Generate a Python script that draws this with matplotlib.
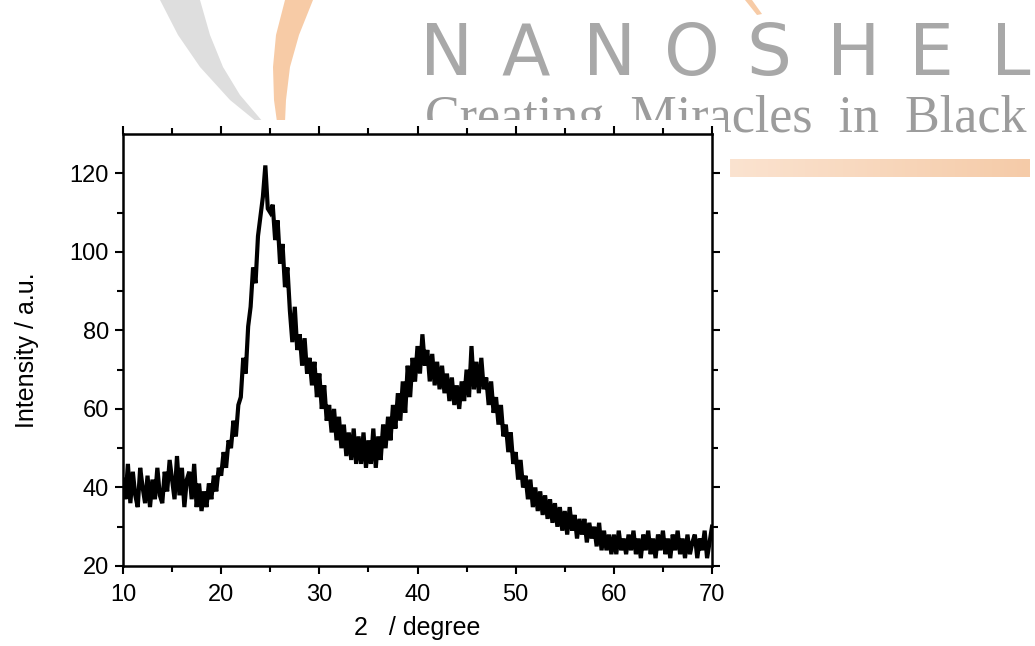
import numpy as np
import matplotlib
matplotlib.use("Agg")
import matplotlib.pyplot as plt
from matplotlib.patches import Polygon, Rectangle

# XRD pattern, every 0.25 degree (10 .. 70)
two_theta = np.arange(10, 70.01, 0.25)
intensity = [
    42, 37, 46, 36,   44, 38, 35, 45,   40, 36, 43, 35,   42, 37, 45, 38,
    36, 44, 39, 47,   42, 37, 48, 38,   45, 35, 42, 44,   37, 46, 35, 41,
    34, 39, 35, 41,   37, 43, 39, 45,   43, 49, 45, 52,   50, 57, 53, 61,
    63, 73, 69, 81,   86, 96, 92, 104,  109, 114, 122, 111, 110, 112, 103, 108,
    97, 102, 91, 96,  85, 77, 86, 75,   79, 71, 78, 69,   73, 66, 72, 63,
    69, 60, 66, 57,   61, 54, 60, 52,   58, 50, 56, 48,   54, 47, 55, 46,
    53, 46, 54, 45,   52, 46, 55, 45,   53, 47, 56, 50,   58, 52, 61, 55,
    64, 57, 67, 59,   71, 63, 73, 67,   76, 69, 79, 71,   75, 67, 74, 66,
    72, 65, 71, 64,   69, 62, 68, 61,   66, 60, 67, 62,   70, 63, 76, 65,
    72, 64, 73, 65,   68, 61, 67, 59,   63, 56, 61, 53,   56, 49, 54, 46,
    49, 42, 47, 40,   43, 37, 42, 35,   40, 34, 39, 33,   38, 32, 37, 31,
    36, 30, 35, 29,   34, 28, 35, 29,   33, 27, 32, 28,   32, 26, 31, 27,
    30, 25, 31, 24,   29, 24, 28, 23,   28, 23, 29, 24,   27, 23, 28, 24,
    29, 23, 27, 22,   28, 24, 29, 23,   27, 22, 28, 24,   29, 23, 27, 22,
    28, 24, 29, 23,   27, 22, 28, 23,   26, 28, 22, 27,   24, 29, 22, 26,
    30,
]

x_ticks = [10, 20, 30, 40, 50, 60, 70]
y_ticks = [20, 40, 60, 80, 100, 120]
logo_letters = "NANOSHEL"
slogan = "Creating  Miracles  in  Black"

W, H = 1035, 646
fig = plt.figure(figsize=(W / 100, H / 100), dpi=100)
fig.patch.set_facecolor("white")

# watermark layer in pixel coordinates
bg = fig.add_axes([0, 0, 1, 1])
bg.axis("off")
bg.set_zorder(0)

grey_arc = [(160, 0), (178, 35), (200, 67), (230, 100), (257, 122),
            (263, 122), (240, 95), (223, 67), (210, 35), (200, 0)]
bg.add_patch(Polygon(grey_arc, closed=True, fc="#dedede", ec="none", zorder=1))
orange_arc = [(285, 0), (276, 35), (273, 67), (274, 100), (277, 122),
              (285, 122), (286, 100), (290, 67), (299, 35), (313, 0)]
bg.add_patch(Polygon(orange_arc, closed=True, fc="#f7cba6", ec="none", zorder=1))
bg.add_patch(Polygon([(745, 0), (752, 0), (762, 14), (757, 15)], closed=True,
                     fc="#f7cba6", ec="none", zorder=1))

# gradient bar on the right
grad = np.linspace(0, 1, 256).reshape(1, -1)
bar_cmap = matplotlib.colors.LinearSegmentedColormap.from_list(
    "bar", ["#fbe3d0", "#f5cba8"])
bg.imshow(grad, cmap=bar_cmap, extent=(730, 1030, 177, 159), aspect="auto", zorder=1)
bg.set_xlim(0, W)
bg.set_ylim(H, 0)

for i, ch in enumerate(logo_letters):
    bg.text(420 + i * 81.5, 75, ch, fontsize=51, color="#a8a8a8",
            family="DejaVu Sans", ha="left", va="baseline", zorder=2)
bg.text(425, 132, slogan, fontsize=37.5, color="#9c9c9c",
        family="Liberation Serif", ha="left", va="baseline", zorder=2)

# white picture box that hides the lower part of the watermark
bg.add_patch(Rectangle((0, 120), 725, H - 120, fc="white", ec="none", zorder=3))

# chart
ax = fig.add_axes([123 / W, 1 - 566 / H, (712 - 123) / W, (566 - 134) / H])
ax.set_zorder(1)
ax.plot(two_theta, intensity, color="black", lw=3.0, solid_joinstyle="miter")

ax.set_xlim(10, 70)
ax.set_ylim(20, 130)
ax.set_xticks(x_ticks)
ax.set_yticks(y_ticks)
ax.set_xticks(np.arange(15, 70, 10), minor=True)
ax.set_yticks(np.arange(30, 130, 20), minor=True)

for s in ax.spines.values():
    s.set_linewidth(1.8)

ax.tick_params(which="both", direction="out", width=1.5, labelsize=17,
               top=True, right=True)
ax.tick_params(axis="x", which="both", pad=7)
ax.tick_params(axis="y", which="both", pad=4)
ax.tick_params(which="major", length=6)
ax.tick_params(which="minor", length=4)
for lab in ax.get_xticklabels() + ax.get_yticklabels():
    lab.set_family("Liberation Sans")

ax.set_xlabel("2   / degree", fontsize=18, family="Liberation Sans", labelpad=7)
ax.set_ylabel("Intensity / a.u.", fontsize=18, family="Liberation Sans", labelpad=22)

fig.savefig("out.png", dpi=100)
